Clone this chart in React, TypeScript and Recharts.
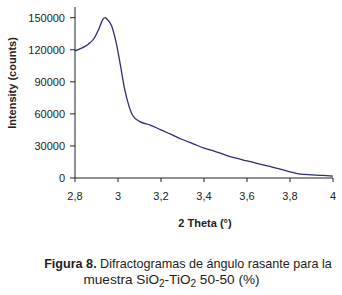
import React from 'react';
import { LineChart, Line, XAxis, YAxis } from 'recharts';

const twoTheta = [2.8, 2.83, 2.86, 2.89, 2.91, 2.93, 2.94, 2.95, 2.97, 2.99, 3.01, 3.03, 3.05, 3.07, 3.1, 3.15, 3.2, 3.25, 3.3, 3.35, 3.4, 3.45, 3.5, 3.55, 3.6, 3.65, 3.7, 3.75, 3.8, 3.85, 3.9, 3.95, 4.0];
const intensity = [119000, 121500, 125000, 131000, 139000, 148500, 150000, 148500, 142500, 128000, 107000, 84000, 68000, 58000, 53000, 49500, 45000, 40500, 36000, 32000, 28000, 25000, 21500, 18500, 16000, 13500, 11000, 8500, 5800, 3600, 3000, 2500, 1800];
const xTicks = [2.8, 3, 3.2, 3.4, 3.6, 3.8, 4];
const yTicks = [0, 30000, 60000, 90000, 120000, 150000];

const data = twoTheta.map((x, i) => ({ x, y: intensity[i] }));

const FONT = '"Liberation Sans", Arial, sans-serif';

export default function App() {
  return (
    <div style={{ position: 'absolute', left: 0, top: 0, width: 342, height: 295, background: '#fff' }}>
      <div style={{ position: 'absolute', left: 0, top: 0 }}>
        <LineChart width={342} height={295} data={data} margin={{ top: 7, right: 9, left: 0, bottom: 87 }}>
          <XAxis
            dataKey="x"
            type="number"
            domain={[2.8, 4]}
            ticks={xTicks}
            tickFormatter={(v: number) => String(v).replace('.', ',')}
            height={30}
            tickSize={4}
            tickMargin={10}
            stroke="#222"
            tick={{ fill: '#222', fontSize: 11, fontFamily: FONT }}
            allowDecimals
          />
          <YAxis
            type="number"
            domain={[0, 160000]}
            ticks={yTicks}
            width={75}
            tickSize={5}
            tickMargin={5}
            stroke="#222"
            tick={{ fill: '#222', fontSize: 11, fontFamily: FONT }}
          />
          <Line type="monotone" dataKey="y" stroke="#2d2d7a" strokeWidth={1.3} dot={false} isAnimationActive={false} />
        </LineChart>
      </div>
      <svg width={342} height={295} style={{ position: 'absolute', left: 0, top: 0, pointerEvents: 'none' }}>
        <text x={16} y={83} transform="rotate(-90 16 83)" textAnchor="middle" fontFamily={FONT} fontSize={11} fontWeight="bold" fill="#222">Intensity (counts)</text>
        <text x={205} y={227} textAnchor="middle" fontFamily={FONT} fontSize={11} fontWeight="bold" fill="#222">2 Theta (°)</text>
        <text x={188} y={268} textAnchor="middle" fontFamily={FONT} fontSize={12.6} fill="#222">
          <tspan fontWeight="bold">Figura 8.</tspan> Difractogramas de ángulo rasante para la
        </text>
        <text x={171.5} y={284} textAnchor="middle" fontFamily={FONT} fontSize={13.6} fill="#222">
          muestra SiO<tspan fontSize={10} dy={3}>2</tspan><tspan dy={-3}>-TiO</tspan><tspan fontSize={10} dy={3}>2</tspan><tspan dy={-3}> 50-50 (%)</tspan>
        </text>
      </svg>
    </div>
  );
}
